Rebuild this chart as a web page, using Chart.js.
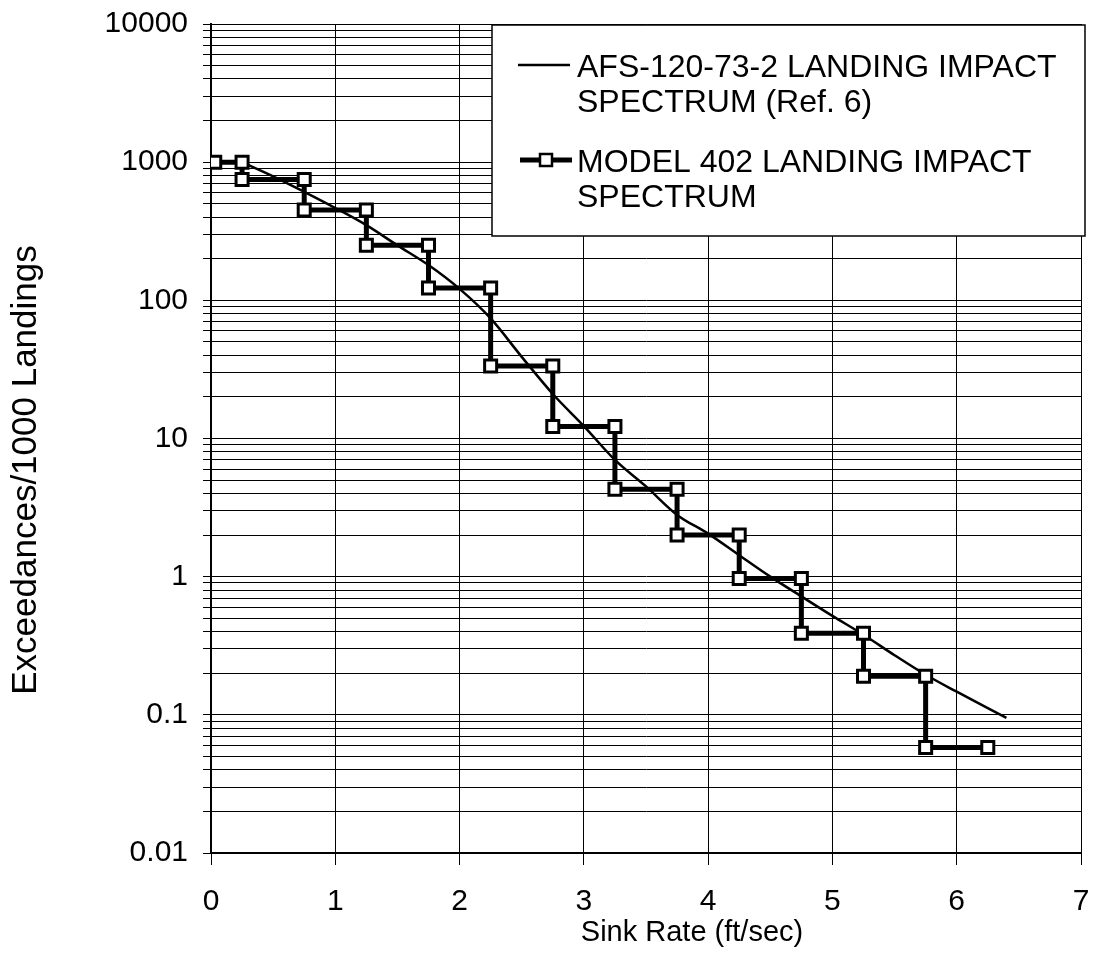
<!DOCTYPE html>
<html>
<head>
<meta charset="utf-8">
<script src="https://cdn.jsdelivr.net/npm/chart.js@4"></script>
<style>
  html, body { margin: 0; padding: 0; background: #fff; }
  #wrap { width: 1094px; height: 976px; position: relative; }
</style>
</head>
<body>
<div id="wrap"><canvas id="sinkChart"></canvas></div>
<script>
// Data
const afsLabel = ['AFS-120-73-2 LANDING IMPACT', 'SPECTRUM (Ref. 6)'];
const modelLabel = ['MODEL 402 LANDING IMPACT', 'SPECTRUM'];
const xTitle = 'Sink Rate (ft/sec)';
const yTitle = 'Exceedances/1000 Landings';

// AFS-120-73-2 curve
const afsX = [0.25, 0.5, 0.75, 1, 1.25, 1.5, 1.75, 2, 2.25, 2.5, 2.75, 3, 3.25,
              3.5, 3.75, 4, 4.25, 4.5, 4.75, 5, 5.25, 5.5, 5.75, 6, 6.25, 6.4];
const afsY = [1000, 790, 610, 466, 350, 250, 180, 121, 74, 39, 21, 12.3, 7.0,
              4.5, 2.8, 2.05, 1.43, 1.0, 0.72, 0.52, 0.38, 0.27, 0.195, 0.147, 0.112, 0.095];

// Model 402 stepped spectrum
const modelX = [0.03, 0.25, 0.25, 0.75, 0.75, 1.25, 1.25, 1.75, 1.75, 2.25, 2.25, 2.75, 2.75,
                3.25, 3.25, 3.75, 3.75, 4.25, 4.25, 4.75, 4.75, 5.25, 5.25, 5.75, 5.75, 6.25];
const modelY = [1000, 1000, 750, 750, 450, 450, 250, 250, 123, 123, 33.5, 33.5, 12.2,
                12.2, 4.3, 4.3, 2.0, 2.0, 0.97, 0.97, 0.39, 0.39, 0.19, 0.19, 0.058, 0.058];

const xTicks = [0, 1, 2, 3, 4, 5, 6, 7];
const yDecades = [0.01, 0.1, 1, 10, 100, 1000, 10000];

const toPoints = (xs, ys) => xs.map((x, i) => ({ x: x, y: ys[i] }));

Chart.defaults.font.family = '"Liberation Sans", Arial, sans-serif';
Chart.defaults.color = '#000';

const FONT = '"Liberation Sans", Arial, sans-serif';

// titles + legend box drawn on top of the grid
const overlayPlugin = {
  id: 'overlay',
  afterDraw(chart) {
    const ctx = chart.ctx;
    const a = chart.chartArea;
    ctx.save();
    ctx.fillStyle = '#000';

    // axis titles
    ctx.font = '29px ' + FONT;
    ctx.textAlign = 'center';
    ctx.textBaseline = 'middle';
    ctx.fillText(xTitle, a.left + 481, 933);

    ctx.save();
    ctx.translate(26, a.top + 446);
    ctx.rotate(-Math.PI / 2);
    ctx.font = '35px ' + FONT;
    ctx.fillText(yTitle, 0, 0);
    ctx.restore();

    // legend box
    const bx = a.left + 281, by = a.top + 1, bw = 593, bh = 211;
    ctx.fillStyle = '#fff';
    ctx.fillRect(bx, by, bw, bh);
    ctx.strokeStyle = '#000';
    ctx.lineWidth = 1.5;
    ctx.strokeRect(bx, by, bw, bh);

    ctx.fillStyle = '#000';
    ctx.font = '32px ' + FONT;
    ctx.textAlign = 'left';
    ctx.textBaseline = 'alphabetic';

    // entry 1 : plain line
    ctx.lineWidth = 2.5;
    ctx.beginPath();
    ctx.moveTo(bx + 26, by + 40);
    ctx.lineTo(bx + 78, by + 40);
    ctx.stroke();
    afsLabel.forEach((t, i) => ctx.fillText(t, bx + 85, by + 52 + i * 35));

    // entry 2 : thick line with square marker
    ctx.lineWidth = 5;
    ctx.beginPath();
    ctx.moveTo(bx + 28, by + 135);
    ctx.lineTo(bx + 80, by + 135);
    ctx.stroke();
    ctx.fillStyle = '#fff';
    ctx.fillRect(bx + 48, by + 129, 12, 12);
    ctx.lineWidth = 2.5;
    ctx.strokeRect(bx + 48, by + 129, 12, 12);
    ctx.fillStyle = '#000';
    modelLabel.forEach((t, i) => ctx.fillText(t, bx + 85, by + 147 + i * 35));

    ctx.restore();
  }
};

const ctx = document.getElementById('sinkChart').getContext('2d');

new Chart(ctx, {
  type: 'scatter',
  data: {
    datasets: [
      {
        label: modelLabel.join(' '),
        data: toPoints(modelX, modelY),
        showLine: true,
        borderColor: '#000',
        borderWidth: 5,
        pointStyle: 'rect',
        pointRadius: 8.5,
        pointBorderWidth: 3,
        pointBackgroundColor: '#fff',
        pointBorderColor: '#000',
        tension: 0
      },
      {
        label: afsLabel.join(' '),
        data: toPoints(afsX, afsY),
        showLine: true,
        borderColor: '#000',
        borderWidth: 2.5,
        pointRadius: 0,
        cubicInterpolationMode: 'monotone'
      }
    ]
  },
  options: {
    responsive: true,
    maintainAspectRatio: false,
    animation: false,
    layout: { padding: { top: 24, right: 13, left: 0, bottom: 0 } },
    plugins: {
      legend: { display: false },
      tooltip: { enabled: false }
    },
    scales: {
      x: {
        type: 'linear',
        min: 0,
        max: 7,
        afterBuildTicks: (scale) => { scale.ticks = xTicks.map(v => ({ value: v })); },
        afterFit: (scale) => {
          scale.height = 123;
          scale.paddingLeft = 0;
          scale.paddingRight = 0;
        },
        grid: { color: '#000', lineWidth: 1, tickLength: 12, drawTicks: true },
        border: { color: '#000', width: 2 },
        ticks: {
          font: { size: 30 },
          padding: 19,
          maxRotation: 0,
          autoSkip: false
        }
      },
      y: {
        type: 'logarithmic',
        min: 0.01,
        max: 10000,
        afterBuildTicks: (scale) => {
          // grid line at 1..9 of every decade
          const t = [];
          for (let d = 0; d < yDecades.length - 1; d++) {
            for (let m = 1; m <= 9; m++) t.push({ value: +(yDecades[d] * m).toPrecision(3) });
          }
          t.push({ value: yDecades[yDecades.length - 1] });
          scale.ticks = t;
        },
        afterFit: (scale) => {
          scale.width = 211;
          scale.paddingTop = 0;
          scale.paddingBottom = 0;
        },
        grid: { color: '#000', lineWidth: 1, tickLength: 8, drawTicks: true },
        border: { color: '#000', width: 2 },
        ticks: {
          font: { size: 30 },
          padding: 15,
          autoSkip: false,
          callback: (v) => yDecades.includes(v) ? String(v) : ''
        }
      }
    }
  },
  plugins: [overlayPlugin]
});
</script>
</body>
</html>
